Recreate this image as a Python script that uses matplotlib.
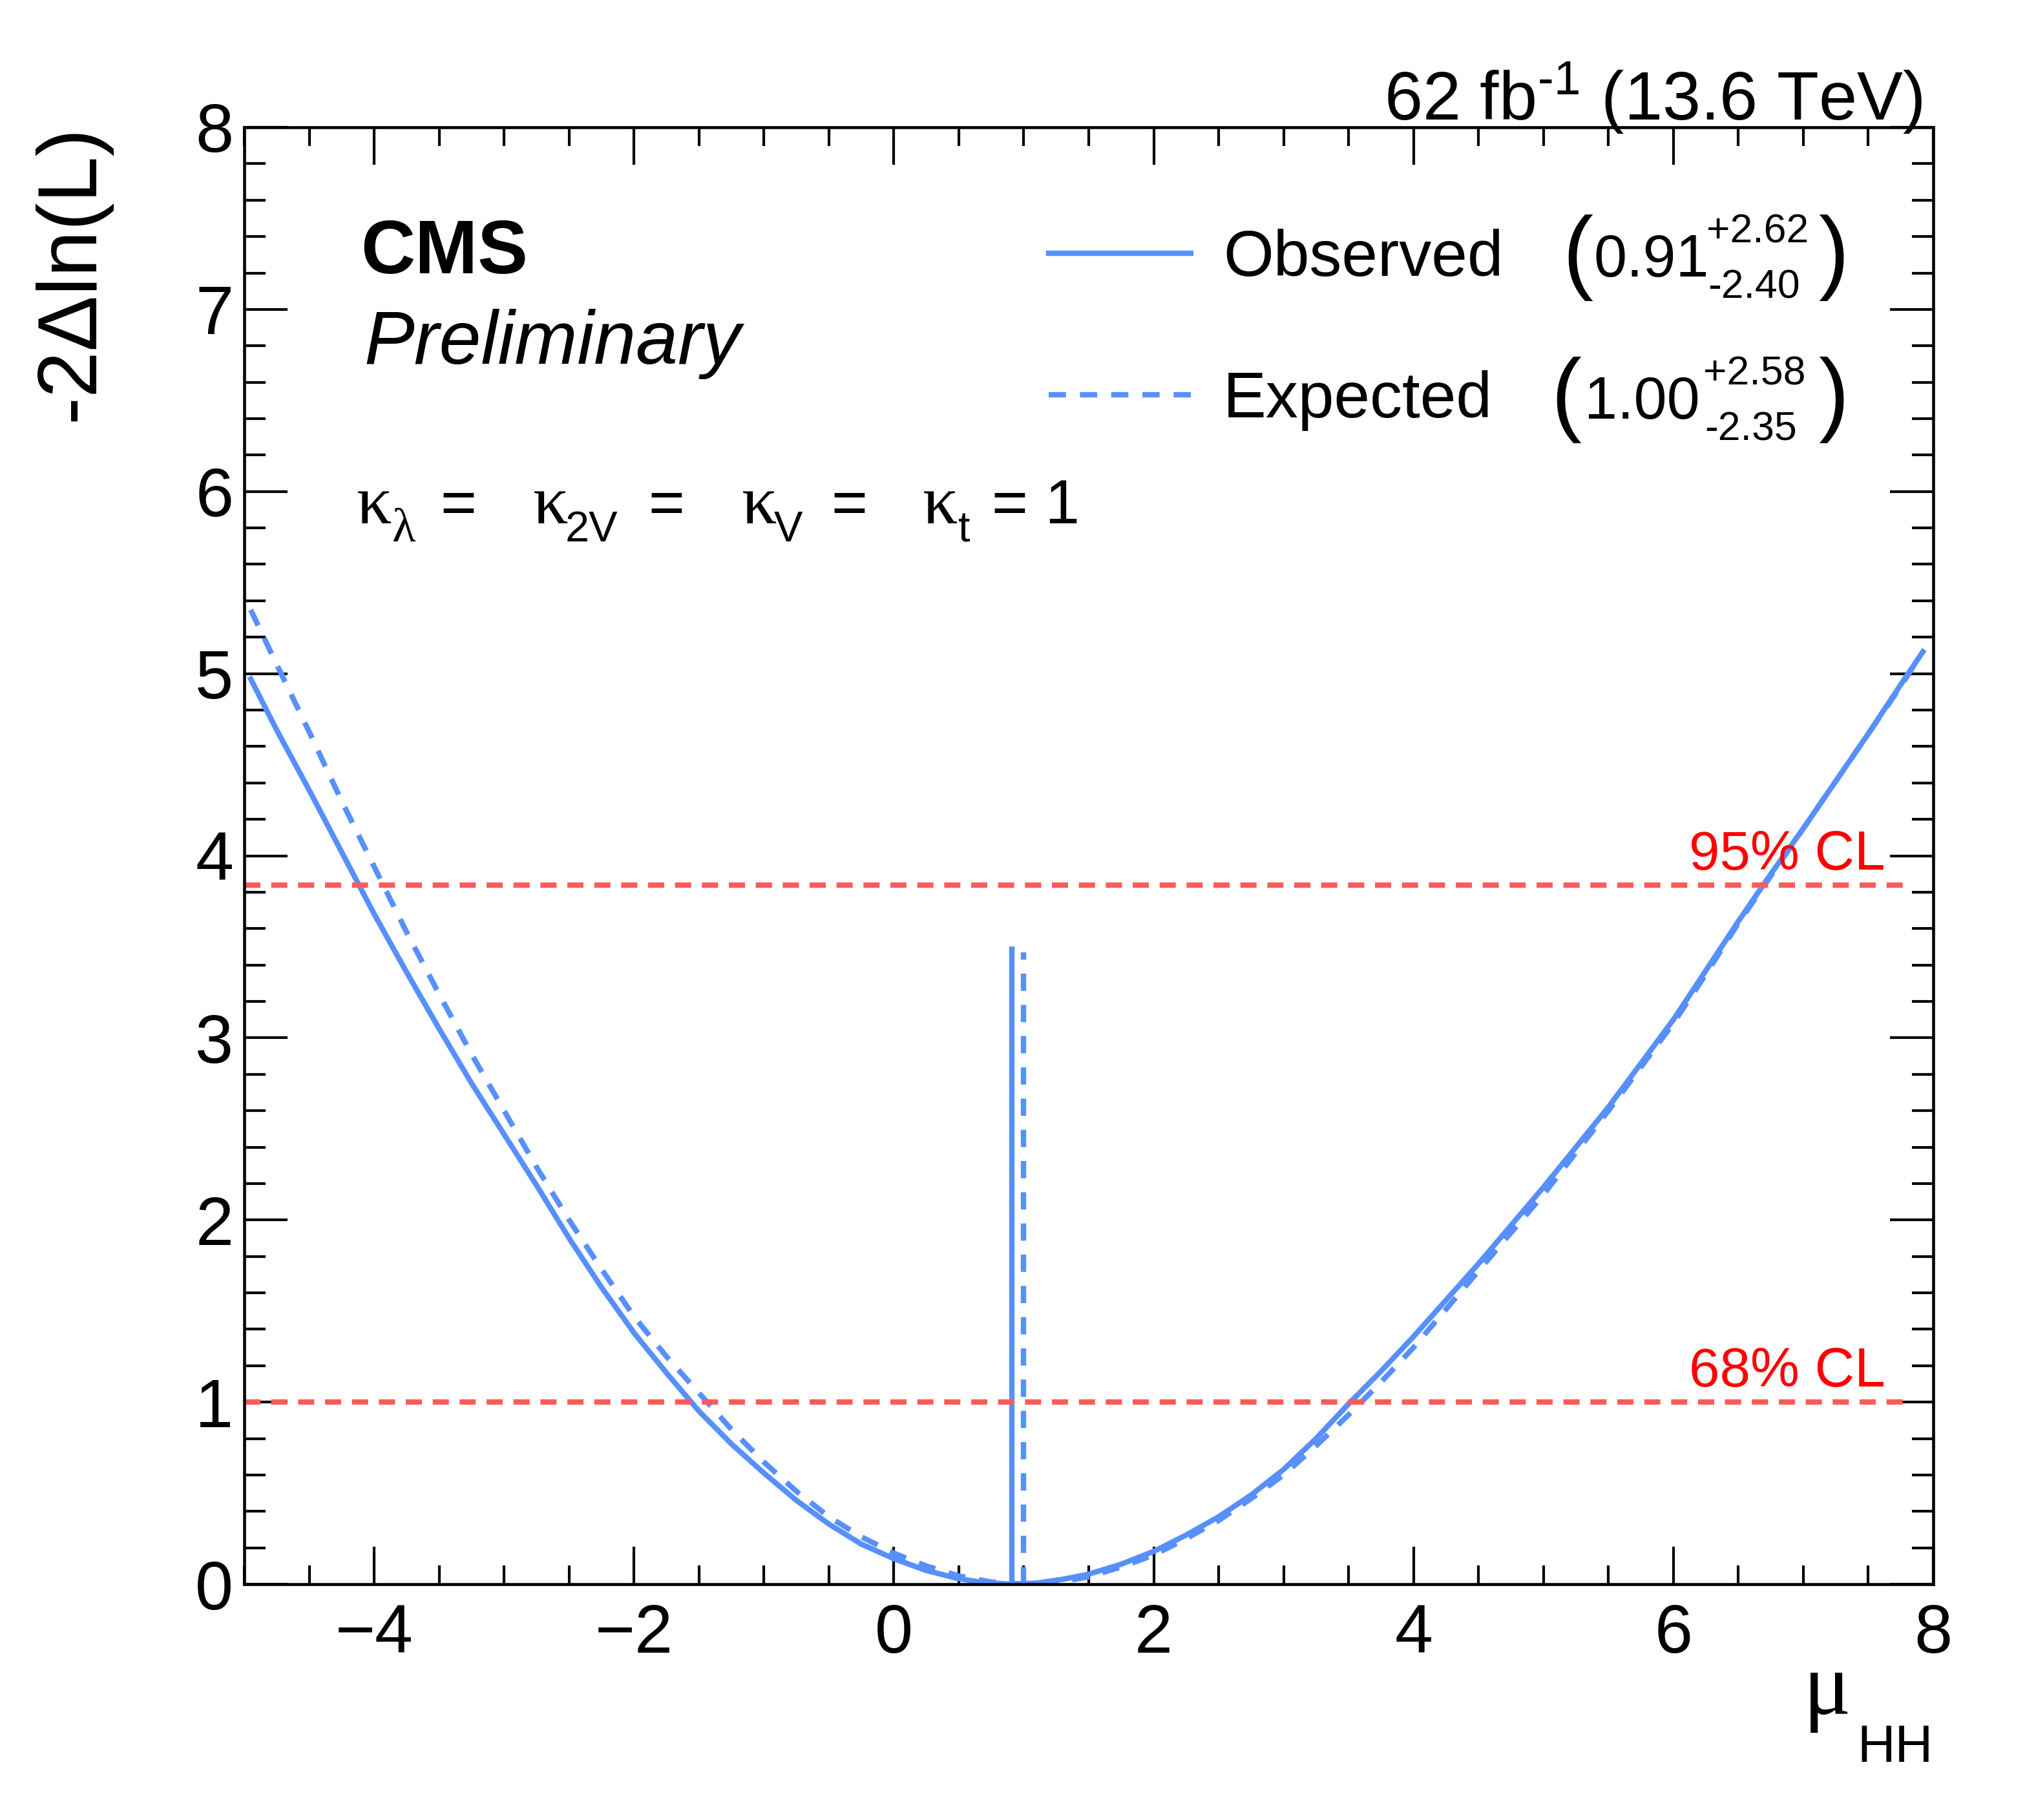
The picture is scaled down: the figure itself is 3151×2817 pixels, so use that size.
import matplotlib
matplotlib.use("Agg")
import matplotlib.pyplot as plt
from matplotlib.lines import Line2D
from matplotlib.ticker import MultipleLocator

# likelihood scan values
mu_obs = [-4.95, -4.75, -4.5, -4.25, -4.0, -3.75, -3.5, -3.25, -3.0, -2.75, -2.5, -2.25,
          -2.0, -1.75, -1.5, -1.25, -1.0, -0.75, -0.5, -0.25, 0.0, 0.25, 0.5, 0.7, 0.91,
          1.1, 1.3, 1.5, 1.75, 2.0, 2.25, 2.5, 2.75, 3.0, 3.25, 3.5, 3.75, 4.0, 4.25, 4.5,
          4.75, 5.0, 5.25, 5.5, 5.75, 6.0, 6.25, 6.5, 6.75, 7.0, 7.25, 7.5, 7.75, 7.92]
nll_obs = [4.97, 4.69, 4.36, 4.02, 3.68, 3.36, 3.05, 2.75, 2.47, 2.19, 1.90, 1.63,
           1.38, 1.16, 0.95, 0.77, 0.61, 0.46, 0.33, 0.22, 0.14, 0.075, 0.03, 0.008, 0.0,
           0.006, 0.027, 0.055, 0.11, 0.18, 0.27, 0.37, 0.49, 0.63, 0.80, 0.99, 1.17, 1.36, 1.56, 1.76,
           1.97, 2.18, 2.40, 2.62, 2.86, 3.10, 3.37, 3.64, 3.90, 4.15, 4.41, 4.67, 4.94, 5.12]

mu_exp = [-4.95, -4.75, -4.5, -4.25, -4.0, -3.75, -3.5, -3.25, -3.0, -2.75, -2.5, -2.25,
          -2.0, -1.75, -1.5, -1.25, -1.0, -0.75, -0.5, -0.25, 0.0, 0.25, 0.5, 0.75, 1.0,
          1.25, 1.5, 1.75, 2.0, 2.25, 2.5, 2.75, 3.0, 3.25, 3.5, 3.75, 4.0, 4.25, 4.5,
          4.75, 5.0, 5.25, 5.5, 5.75, 6.0, 6.25, 6.5, 6.75, 7.0, 7.25, 7.5, 7.75, 7.9]
nll_exp = [5.35, 5.05, 4.68, 4.30, 3.94, 3.58, 3.24, 2.91, 2.60, 2.29, 2.00, 1.73,
           1.47, 1.25, 1.05, 0.85, 0.67, 0.51, 0.37, 0.26, 0.17, 0.10, 0.045, 0.012, 0.0,
           0.01, 0.04, 0.095, 0.16, 0.25, 0.35, 0.47, 0.60, 0.76, 0.93, 1.11, 1.30, 1.51, 1.72,
           1.93, 2.14, 2.37, 2.60, 2.84, 3.08, 3.35, 3.63, 3.89, 4.15, 4.41, 4.67, 4.93, 5.10]

bestfit_obs = 0.91
bestfit_exp = 1.00
bestfit_line_top = [3.50, 3.47]

cl_levels = [1.0, 3.84]
cl_labels = ["68% CL", "95% CL"]

obs_val = ("0.91", "+2.62", "-2.40")
exp_val = ("1.00", "+2.58", "-2.35")

plt.rcParams["font.family"] = ["Liberation Sans", "DejaVu Sans"]
plt.rcParams["mathtext.fontset"] = "custom"
plt.rcParams["mathtext.rm"] = "Liberation Sans"
plt.rcParams["mathtext.it"] = "Liberation Sans:italic"
plt.rcParams["mathtext.bf"] = "Liberation Sans:bold"

W, H = 3151, 2817


def fx(px):
    return px / W


def fy(py):
    return 1 - py / H


blue = "#5790fc"
red_line = "#ff5a5a"

fig = plt.figure(figsize=(W / 300, H / 300), dpi=300)
ax = fig.add_axes([fx(378), fy(2452), (2992 - 378) / W, (2452 - 197) / H])

ax.plot(mu_obs, nll_obs, color=blue, lw=2.0)
ax.plot(mu_exp, nll_exp, color=blue, lw=2.0, dashes=(3.2, 2.6))
ax.vlines(bestfit_obs, 0, bestfit_line_top[0], color=blue, lw=2.0)
ax.vlines(bestfit_exp, 0, bestfit_line_top[1], color=blue, lw=2.0, linestyles=(0, (3.2, 2.6)))

for lvl, lab in zip(cl_levels, cl_labels):
    ax.hlines(lvl, -5, 7.8, color=red_line, lw=2.0, linestyles=(0, (3, 2)))
    ax.text(7.63, lvl + 0.02, lab, color="red", fontsize=20.5, ha="right", va="bottom")

ax.set_xlim(-5, 8)
ax.set_ylim(0, 8)
ax.xaxis.set_major_locator(MultipleLocator(2))
ax.xaxis.set_minor_locator(MultipleLocator(0.5))
ax.yaxis.set_major_locator(MultipleLocator(1))
ax.yaxis.set_minor_locator(MultipleLocator(0.2))
ax.tick_params(which="both", direction="in", top=True, right=True, width=1.0, labelsize=25.5)
ax.tick_params(axis="x", which="major", length=14, pad=7)
ax.tick_params(axis="x", which="minor", length=7)
ax.tick_params(axis="y", which="major", length=16, pad=4)
ax.tick_params(axis="y", which="minor", length=8)
for s in ax.spines.values():
    s.set_linewidth(1.1)

ax.set_ylabel("-2\u0394ln(L)", fontsize=31, loc="top")
ax.yaxis.set_label_coords(-0.079, 1.002)

# x title
fig.text(fx(2791), fy(2653), "\u03bc", family="Liberation Serif", fontsize=33, ha="left", va="baseline")
fig.text(fx(2992), fy(2727), "HH", fontsize=19.5, ha="right", va="baseline")

# header texts
fig.text(fx(2975), fy(186), r"62 fb$^{\text{-1}}$ (13.6 TeV)", fontsize=25.5, ha="right", va="baseline")
fig.text(fx(558), fy(423), "CMS", fontsize=28, fontweight="bold", ha="left", va="baseline")
fig.text(fx(563), fy(563), "Preliminary", fontsize=28, style="italic", ha="left", va="baseline")

# coupling line
kap = dict(family="Liberation Serif", fontsize=26, ha="left", va="baseline")
sub = dict(fontsize=16, ha="left", va="baseline")
eq = dict(fontsize=23, ha="left", va="baseline")
kappa_x = [552, 825, 1148, 1428]
sub_x = [607, 875, 1198, 1483]
eq_x = [681, 1003, 1286, 1535]
subs = ["\u03bb", "2V", "V", "t"]
eqs = ["=", "=", "=", "= 1"]
for kx, sx, ex, s, e in zip(kappa_x, sub_x, eq_x, subs, eqs):
    fig.text(fx(kx), fy(810), "\u03ba", **kap)
    if s == "\u03bb":
        fig.text(fx(sx), fy(838), s, family="Liberation Serif", fontsize=18, ha="left", va="baseline")
    else:
        fig.text(fx(sx), fy(838), s, **sub)
    fig.text(fx(ex), fy(810), e, **eq)

# legend
handles = [Line2D([], [], color=blue, lw=2.0),
           Line2D([], [], color=blue, lw=2.0, dashes=(3.2, 2.6))]
ax.legend(handles, ["Observed", "Expected"], loc="upper left",
          bbox_to_anchor=(fx(1623), fy(354)), bbox_transform=fig.transFigure,
          frameon=False, fontsize=24, handlelength=2.2, handletextpad=0.5,
          labelspacing=1.25, borderpad=0, borderaxespad=0)

# best-fit values with uncertainties
rows = [(obs_val, 428, 2418, 2466, 2641), (exp_val, 648, 2400, 2452, 2636)]
for (central, up, down), base, bx, cx, ux in rows:
    fig.text(fx(bx), fy(base + 8), "(", fontsize=34, ha="left", va="baseline")
    fig.text(fx(cx), fy(base), central, fontsize=22, ha="left", va="baseline")
    fig.text(fx(ux), fy(base - 52), up, fontsize=15, ha="left", va="baseline")
    fig.text(fx(ux + 2), fy(base + 33), down, fontsize=15, ha="left", va="baseline")
    fig.text(fx(2814), fy(base + 8), ")", fontsize=34, ha="left", va="baseline")

fig.savefig("out.png", dpi=300)
